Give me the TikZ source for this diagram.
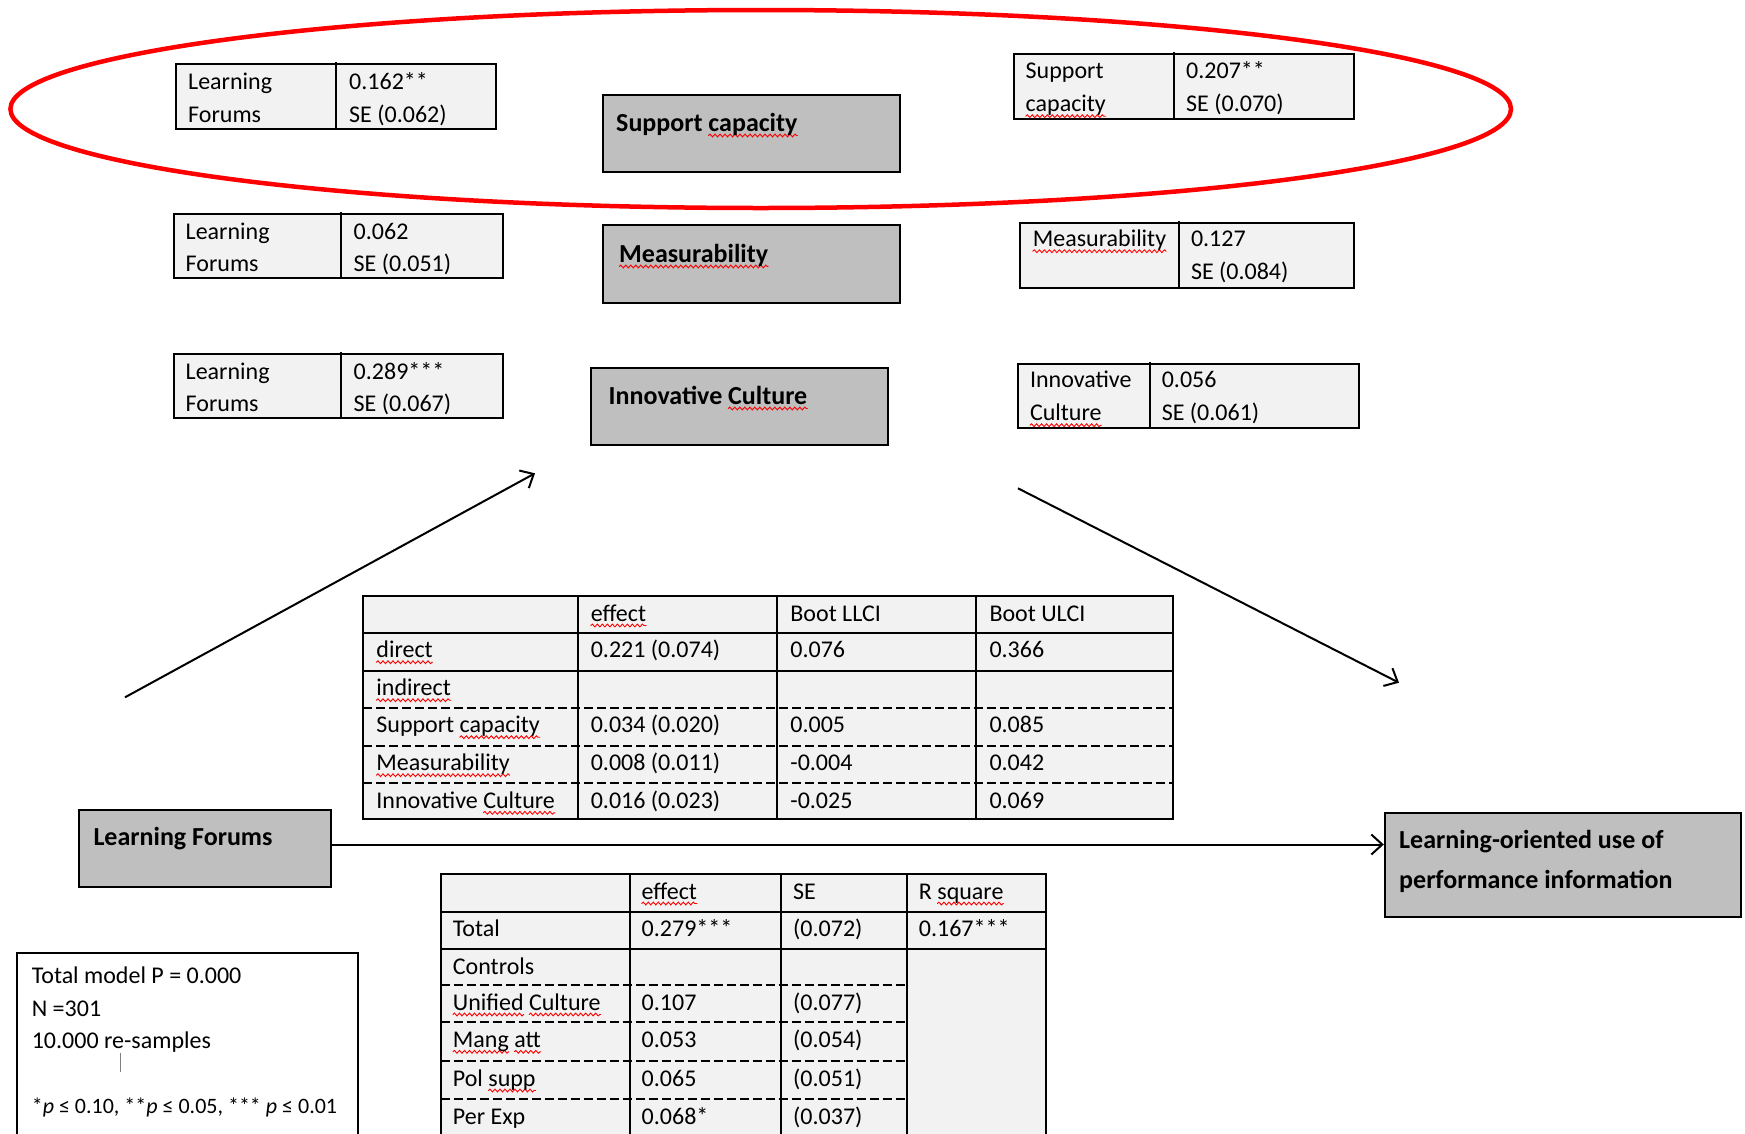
\documentclass[tikz,border=0pt]{standalone}
\usepackage{fontspec}
\setmainfont{Carlito}
\usetikzlibrary{arrows.meta,decorations.pathmorphing}
\definecolor{boxgray}{HTML}{BFBFBF}
\definecolor{cellgray}{HTML}{F2F2F2}
\newsavebox\splbox
\newcommand\spl[1]{\sbox\splbox{#1}\rlap{\tikz[overlay]\draw[red,line width=0.9pt,line cap=round,decorate,decoration={snake,amplitude=1.4pt,segment length=5pt}] (0pt,-4.5pt) -- (\wd\splbox,-4.5pt);}\usebox\splbox}
\newcommand\tcell[3]{\node[txt] (#1) at (#2) {#3};}
\begin{document}
\begin{tikzpicture}[x=1pt,y=-1pt,
  txt/.style={inner sep=0pt, anchor=base west, font=\fontsize{24}{33}\selectfont},
  lbl/.style={inner sep=0pt, anchor=base west, font=\fontsize{26}{40}\selectfont\bfseries},
  graybox/.style={draw=black, line width=2pt, fill=boxgray, inner sep=0pt, anchor=north west},
  cellbox/.style={draw=black, line width=2pt, fill=cellgray, inner sep=0pt, anchor=north west},
  notebox/.style={draw=black, line width=2pt, fill=white, inner sep=0pt, anchor=north west},
  arr/.style={line width=2pt, -{Straight Barb[length=11pt,width=20pt,line width=2pt]}},
  grid/.style={line width=2pt, line cap=rect},
  dgrid/.style={line width=2pt, dash pattern=on 9pt off 4pt},
  ring/.style={draw=red, line width=4.5pt},
]
\useasboundingbox[fill=white] (0,0) rectangle (1745,1133);

% ---------- small tables, left ----------
\node[cellbox, minimum width=320pt, minimum height=65pt] (t1) at (175,63) {};
\draw[grid] (336,63) -- (336,128);
\tcell{t1a}{188,89}{Learning}
\tcell{t1b}{188,122}{Forums}
\tcell{t1c}{349,89}{0.162**}
\tcell{t1d}{349,122}{SE (0.062)}

\node[cellbox, minimum width=329.5pt, minimum height=64.5pt] (t2) at (172.5,212.5) {};
\draw[grid] (340.5,212.5) -- (340.5,277);
\tcell{t2a}{185.5,239.5}{Learning}
\tcell{t2b}{185.5,271}{Forums}
\tcell{t2c}{353.5,239.5}{0.062}
\tcell{t2d}{353.5,271}{SE (0.051)}

\node[cellbox, minimum width=329.5pt, minimum height=64.6pt] (t3) at (172.5,352.7) {};
\draw[grid] (340.5,352.7) -- (340.5,417.3);
\tcell{t3a}{185.5,379}{Learning}
\tcell{t3b}{185.5,411}{Forums}
\tcell{t3c}{353.5,379}{0.289***}
\tcell{t3d}{353.5,411}{SE (0.067)}

% ---------- small tables, right ----------
\node[cellbox, minimum width=340.7pt, minimum height=65pt] (r1) at (1012.7,53.3) {};
\draw[grid] (1173.6,53.3) -- (1173.6,118.3);
\tcell{r1a}{1025.5,78.7}{Support}
\tcell{r1b}{1025.5,111.7}{\spl{capacity}}
\tcell{r1c}{1186,78.7}{0.207**}
\tcell{r1d}{1186,111.7}{SE (0.070)}

\node[cellbox, minimum width=334.4pt, minimum height=64.7pt] (r2) at (1019,222.3) {};
\draw[grid] (1178.8,222.3) -- (1178.8,287);
\tcell{r2a}{1032.6,246.7}{\spl{Measurability}}
\tcell{r2c}{1190.8,246.7}{0.127}
\tcell{r2d}{1190.8,279.3}{SE (0.084)}

\node[cellbox, minimum width=341.3pt, minimum height=64.6pt] (r3) at (1016.7,362.7) {};
\draw[grid] (1149.7,362.7) -- (1149.7,427.3);
\tcell{r3a}{1029.8,387.3}{Innovative}
\tcell{r3b}{1029.8,420.7}{\spl{Culture}}
\tcell{r3c}{1161.6,387.3}{0.056}
\tcell{r3d}{1161.6,420.7}{SE (0.061)}

% ---------- gray mediator boxes ----------
\node[graybox, minimum width=297pt, minimum height=76.7pt] (sc) at (601.6,94) {};
\node[lbl] (sct) at (616,131) {Support \spl{capacity}};
\node[graybox, minimum width=297pt, minimum height=77.4pt] (ms) at (601.6,224.3) {};
\node[lbl] (mst) at (619,262) {\spl{Measurability}};
\node[graybox, minimum width=297pt, minimum height=77.6pt] (ic) at (590,366.7) {};
\node[lbl] (ict) at (608.5,404) {Innovative \spl{Culture}};

% ---------- X and Y boxes ----------
\node[graybox, minimum width=252pt, minimum height=76.7pt] (lf) at (78,809.3) {};
\node[lbl] (lft) at (93.3,845.5) {Learning Forums};
\node[graybox, minimum width=356pt, minimum height=104.3pt] (lo) at (1383.8,811.7) {};
\node[lbl] (lot1) at (1399,848.3) {Learning-oriented use of};
\node[lbl] (lot2) at (1399,888.3) {performance information};

% ---------- connectors ----------
\coordinate (ls) at (125,697.3);
\coordinate (le) at (535,473.3);
\draw[arr] (ls) -- (le);
\coordinate (rs) at (1018,488.3);
\coordinate (re) at (1399,682.7);
\draw[arr] (rs) -- (re);
\coordinate (hy) at (0,844.5);
\draw[arr] (lf.east |- hy) -- (lo.west |- hy);

% ---------- middle table ----------
\fill[cellgray] (363.2,596) rectangle (1173,819.3);
\foreach \y in {596,632.7,670.7,819.3} \draw[grid] (363.2,\y) -- (1173,\y);
\foreach \y in {707.7,745.7,783.3} \draw[dgrid] (363.2,\y) -- (1173,\y);
\foreach \x in {363.2,577.6,777.2,976.3,1173} \draw[grid] (\x,596) -- (\x,819.3);
\tcell{m01}{590.6,621}{\spl{effect}}
\tcell{m02}{790.2,621}{Boot LLCI}
\tcell{m03}{989.3,621}{Boot ULCI}
\tcell{m10}{376.2,657.7}{\spl{direct}}
\tcell{m11}{590.6,657.7}{0.221 (0.074)}
\tcell{m12}{790.2,657.7}{0.076}
\tcell{m13}{989.3,657.7}{0.366}
\tcell{m20}{376.2,695.7}{\spl{indirect}}
\tcell{m30}{376.2,732.7}{Support \spl{capacity}}
\tcell{m31}{590.6,732.7}{0.034 (0.020)}
\tcell{m32}{790.2,732.7}{0.005}
\tcell{m33}{989.3,732.7}{0.085}
\tcell{m40}{376.2,770.7}{\spl{Measurability}}
\tcell{m41}{590.6,770.7}{0.008 (0.011)}
\tcell{m42}{790.2,770.7}{-0.004}
\tcell{m43}{989.3,770.7}{0.042}
\tcell{m50}{376.2,808.3}{Innovative \spl{Culture}}
\tcell{m51}{590.6,808.3}{0.016 (0.023)}
\tcell{m52}{790.2,808.3}{-0.025}
\tcell{m53}{989.3,808.3}{0.069}

% ---------- bottom table ----------
\fill[cellgray] (440.7,874) rectangle (1045.6,1145);
\foreach \y in {874,911.7,949} \draw[grid] (440.7,\y) -- (1045.6,\y);
\foreach \y in {985,1022.3,1061,1099} \draw[dgrid] (440.7,\y) -- (906.7,\y);
\foreach \x in {440.7,629.5,781,906.7,1045.6} \draw[grid] (\x,874) -- (\x,1145);
\tcell{b01}{641.5,899}{\spl{effect}}
\tcell{b02}{793,899}{SE}
\tcell{b03}{918.7,899}{R \spl{square}}
\tcell{b10}{452.7,936.7}{Total}
\tcell{b11}{641.5,936.7}{0.279***}
\tcell{b12}{793,936.7}{(0.072)}
\tcell{b13}{918.7,936.7}{0.167***}
\tcell{b20}{452.7,974}{Controls}
\tcell{b30}{452.7,1010}{\spl{Unified} \spl{Culture}}
\tcell{b31}{641.5,1010}{0.107}
\tcell{b32}{793,1010}{(0.077)}
\tcell{b40}{452.7,1047.3}{\spl{Mang} \spl{att}}
\tcell{b41}{641.5,1047.3}{0.053}
\tcell{b42}{793,1047.3}{(0.054)}
\tcell{b50}{452.7,1086}{Pol \spl{supp}}
\tcell{b51}{641.5,1086}{0.065}
\tcell{b52}{793,1086}{(0.051)}
\tcell{b60}{452.7,1124}{Per Exp}
\tcell{b61}{641.5,1124}{0.068*}
\tcell{b62}{793,1124}{(0.037)}

% ---------- notes box ----------
\node[notebox, minimum width=340.5pt, minimum height=200pt] (notes) at (16,951.5) {};
\tcell{n1}{31.6,983.3}{Total model P = 0.000}
\tcell{n2}{31.6,1016.7}{N =301}
\tcell{n3}{31.6,1048.3}{10.000 re-samples}
\node[txt, font=\fontsize{22}{30}\selectfont] (n4) at (31.6,1113.3) {*\textit{p} ≤ 0.10, **\textit{p} ≤ 0.05, *** \textit{p} ≤ 0.01};
\draw[gray, line width=1pt] (120.7,1053) -- (120.7,1072);

% ---------- red ring ----------
\draw[ring] (760.7,109) ellipse [x radius=750.3, y radius=99];
\end{tikzpicture}
\end{document}
